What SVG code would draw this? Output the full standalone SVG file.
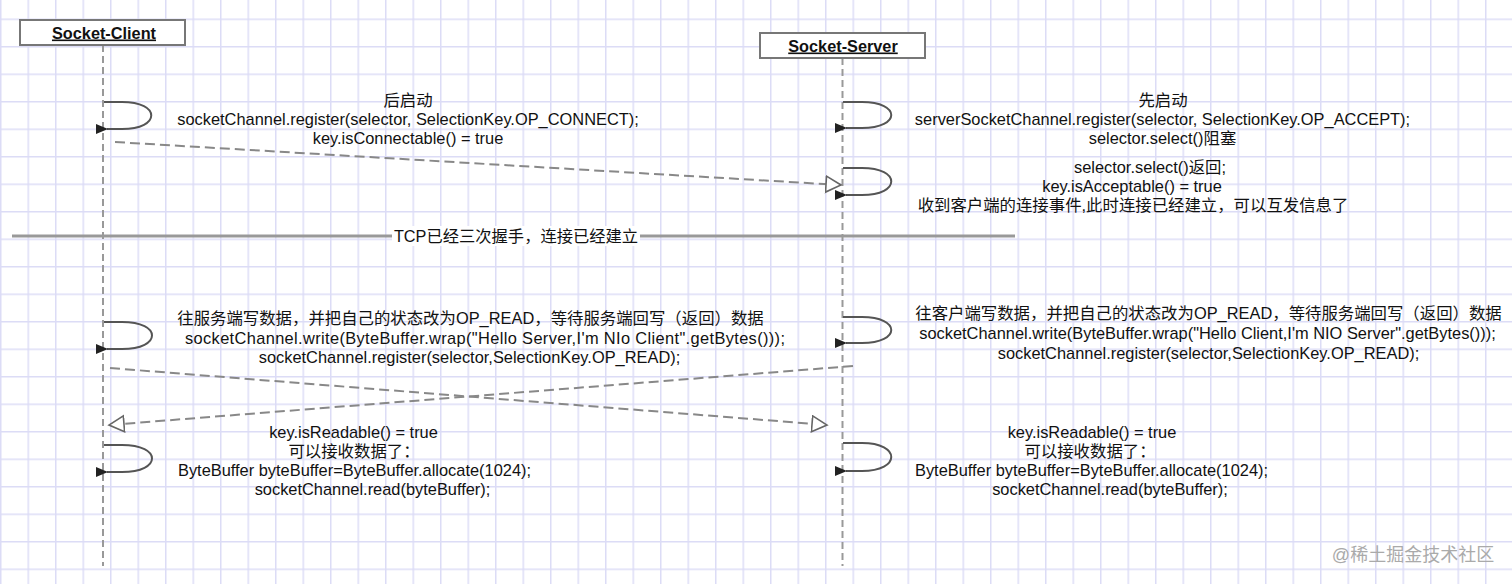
<svg xmlns="http://www.w3.org/2000/svg" width="1512" height="584" viewBox="0 0 1512 584">
<defs>
<pattern id="grid" patternUnits="userSpaceOnUse" x="0" y="18.5" width="27.5" height="27.5">
<path d="M0.75,0 V27.5 M0,0.75 H27.5" fill="none" stroke="#dcdcf6" stroke-width="1.5"/>
</pattern>
<marker id="fill" markerUnits="userSpaceOnUse" markerWidth="14" markerHeight="12" refX="1" refY="6" orient="auto-start-reverse" viewBox="0 0 14 12">
<path d="M0,6 L12,1 L12,11 z" fill="#222"/>
</marker>
<marker id="open" markerUnits="userSpaceOnUse" markerWidth="20" markerHeight="20" refX="16" refY="9" orient="auto" viewBox="0 0 20 20">
<path d="M1,1 L16,9 L1,17 z" fill="#fff" stroke="#666" stroke-width="1.6"/>
</marker>
</defs>
<style>
.t{font-family:"Liberation Sans","Noto Sans CJK SC",sans-serif;font-size:16.4px;fill:#111;text-anchor:middle}
.h{font-family:"Liberation Sans",sans-serif;font-size:16.3px;font-weight:bold;fill:#111;text-anchor:middle;text-decoration:underline}
.box{fill:#fff;stroke:#777;stroke-width:2}
.life{stroke:#999;stroke-width:2;stroke-dasharray:7,4;fill:none}
.loop{fill:none;stroke:#555;stroke-width:2}
.msg{fill:none;stroke:#888;stroke-width:2;stroke-dasharray:10,5}
</style>
<rect width="1512" height="584" fill="#fff"/>
<rect width="1512" height="584" fill="url(#grid)"/>

<g id="socket-client">
<line class="life" x1="103" y1="45" x2="103" y2="566"/>
<rect class="box" x="20" y="20" width="165" height="25"/>
<text class="h" x="104" y="38.5">Socket-Client</text>
</g>

<g id="socket-server">
<line class="life" x1="842.5" y1="58" x2="842.5" y2="566"/>
<rect class="box" x="760" y="33" width="165" height="25"/>
<text class="h" x="843" y="51.5">Socket-Server</text>
</g>

<g id="connectors">
<path class="loop" d="M104,102 H122 C161,102 161,129 122,129 H107" marker-end="url(#fill)"/>
<path class="loop" d="M843,102 H862 C901,102 901,128 862,128 H846" marker-end="url(#fill)"/>
<path class="loop" d="M843,168 H862 C901,168 901,195 862,195 H846" marker-end="url(#fill)"/>
<path class="loop" d="M104,322 H122 C162,322 162,349 122,349 H107" marker-end="url(#fill)"/>
<path class="loop" d="M843,317 H862 C901,317 901,343 862,343 H846" marker-end="url(#fill)"/>
<path class="loop" d="M104,445 H122 C162,445 162,472 122,472 H107" marker-end="url(#fill)"/>
<path class="loop" d="M843,443 H862 C901,443 901,471 862,471 H846" marker-end="url(#fill)"/>
<line class="msg" x1="115" y1="142" x2="841" y2="185" marker-end="url(#open)"/>
<line class="msg" x1="110" y1="368" x2="827" y2="425" marker-end="url(#open)"/>
<line class="msg" x1="853" y1="366" x2="109" y2="425" marker-end="url(#open)"/>
</g>

<g id="tcp-divider">
<line x1="12" y1="236" x2="1015" y2="236" stroke="#999" stroke-width="3"/>
<rect x="392" y="226" width="248" height="20" fill="#fff"/>
<text class="t" x="516" y="241.5" style="font-size:16.3px">TCP已经三次握手，连接已经建立</text>
</g>

<g id="client-step1">
<text class="t" x="408" y="105.5">后启动</text>
<text class="t" x="408" y="124.5">socketChannel.register(selector, SelectionKey.OP_CONNECT);</text>
<text class="t" x="408" y="143.5">key.isConnectable() = true</text>
</g>

<g id="server-step1">
<text class="t" x="1163" y="105.5">先启动</text>
<text class="t" x="1162.5" y="124.5">serverSocketChannel.register(selector, SelectionKey.OP_ACCEPT);</text>
<text class="t" x="1162.5" y="143.5">selector.select()阻塞</text>
</g>

<g id="server-step2">
<text class="t" x="1150" y="172.5">selector.select()返回;</text>
<text class="t" x="1132" y="191.5">key.isAcceptable() = true</text>
<text class="t" x="1133" y="210.5">收到客户端的连接事件,此时连接已经建立，可以互发信息了</text>
</g>

<g id="client-write">
<text class="t" x="470.5" y="323.5">往服务端写数据，并把自己的状态改为OP_READ，等待服务端回写（返回）数据</text>
<text class="t" x="485" y="343.5" textLength="600" lengthAdjust="spacing">socketChannel.write(ByteBuffer.wrap("Hello Server,I'm NIo Client".getBytes()));</text>
<text class="t" x="469.5" y="362.5">socketChannel.register(selector,SelectionKey.OP_READ);</text>
</g>

<g id="server-write">
<text class="t" x="1208.5" y="318.5">往客户端写数据，并把自己的状态改为OP_READ，等待服务端回写（返回）数据</text>
<text class="t" x="1207.5" y="338.5">socketChannel.write(ByteBuffer.wrap("Hello Client,I'm NIO Server".getBytes()));</text>
<text class="t" x="1208.5" y="358.5">socketChannel.register(selector,SelectionKey.OP_READ);</text>
</g>

<g id="client-read">
<text class="t" x="353.5" y="437.5">key.isReadable() = true</text>
<text class="t" x="354" y="456.5">可以接收数据了：</text>
<text class="t" x="354.5" y="475.5">ByteBuffer byteBuffer=ByteBuffer.allocate(1024);</text>
<text class="t" x="372.5" y="494.5">socketChannel.read(byteBuffer);</text>
</g>

<g id="server-read">
<text class="t" x="1092" y="437.5">key.isReadable() = true</text>
<text class="t" x="1090" y="456.5">可以接收数据了：</text>
<text class="t" x="1091.5" y="475.5">ByteBuffer byteBuffer=ByteBuffer.allocate(1024);</text>
<text class="t" x="1110" y="494.5">socketChannel.read(byteBuffer);</text>
</g>

<text x="1413" y="561" style="font-family:'Liberation Sans','Noto Sans CJK SC',sans-serif;font-size:18px;fill:#aaa;text-anchor:middle">@稀土掘金技术社区</text>
</svg>
